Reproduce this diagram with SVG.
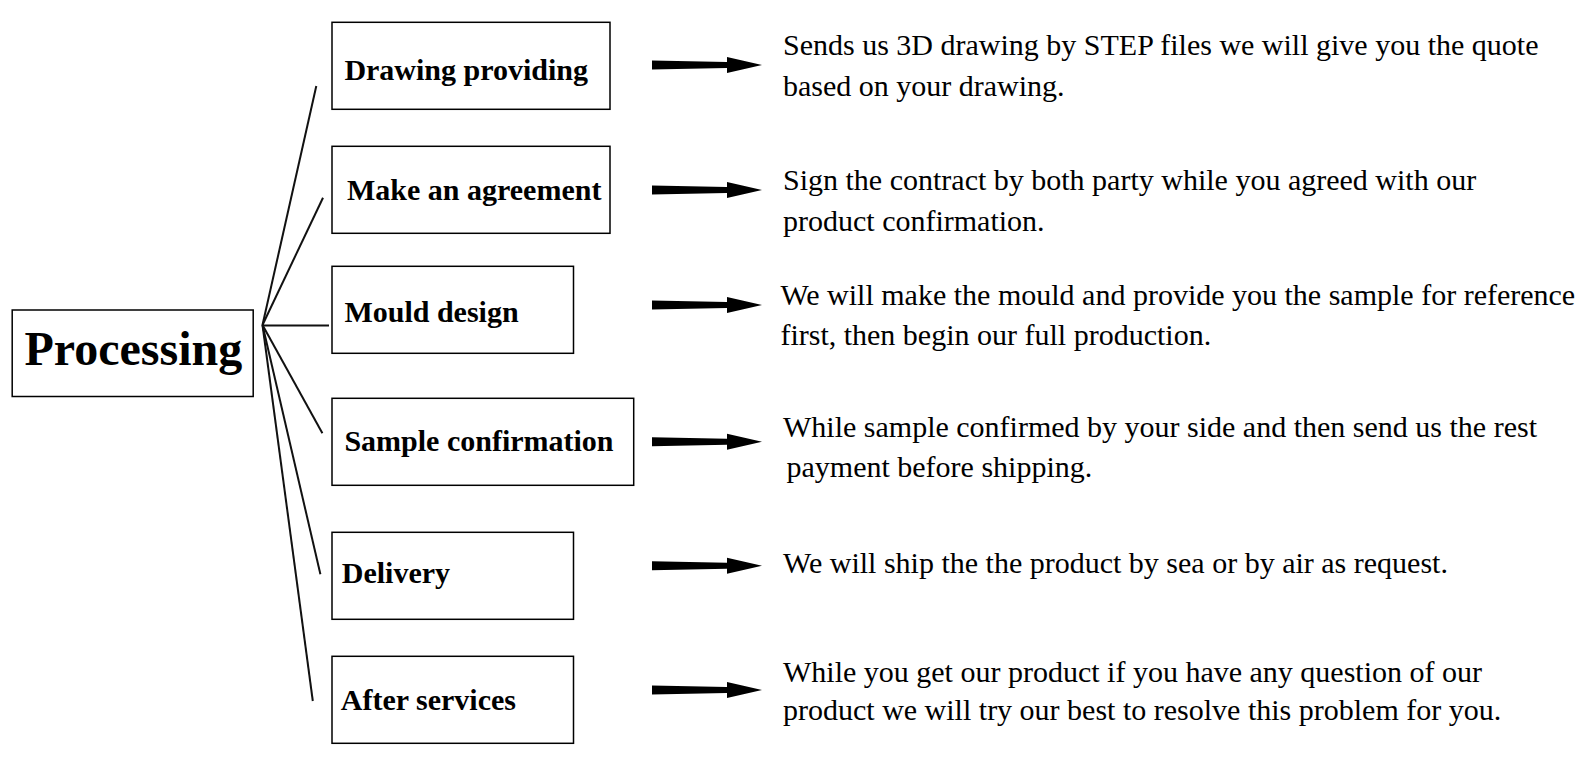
<svg xmlns="http://www.w3.org/2000/svg" width="1588" height="766" viewBox="0 0 1588 766">
<style>
.box{fill:#fff;stroke:#000;stroke-width:1.5}
.lbl{font-family:"Liberation Serif","Times New Roman",serif;font-weight:bold;font-size:30px;fill:#000}
.big{font-family:"Liberation Serif","Times New Roman",serif;font-weight:bold;font-size:48px;fill:#000}
.desc{font-family:"Liberation Serif","Times New Roman",serif;font-size:30px;fill:#000}
.ln{stroke:#111;stroke-width:2;fill:none}
</style>
<defs>
<path id="arr" d="M0,-4.5 L75,-3 L75,-8 L110,0 L75,8 L75,3 L0,4.5 Z" fill="#000"/>
</defs>
<rect width="1588" height="766" fill="#fff"/>
<g id="connectors">
<line class="ln" x1="262.5" y1="325" x2="316.3" y2="86"/>
<line class="ln" x1="262.5" y1="325" x2="323" y2="197.7"/>
<line class="ln" x1="262.5" y1="325.5" x2="329" y2="325.5"/>
<line class="ln" x1="262.5" y1="325" x2="322.4" y2="433.3"/>
<line class="ln" x1="262.5" y1="325" x2="320.4" y2="574.3"/>
<line class="ln" x1="262.5" y1="325" x2="312.8" y2="701"/>
<use href="#arr" x="652" y="65"/>
<use href="#arr" x="652" y="190"/>
<use href="#arr" x="652" y="305"/>
<use href="#arr" x="652" y="441.7"/>
<use href="#arr" x="652" y="565.7"/>
<use href="#arr" x="652" y="690"/>
</g>
<g id="processing">
<rect class="box" x="12.2" y="310" width="241" height="86.5"/>
<text class="big" x="24.5" y="365">Processing</text>
</g>
<g id="drawing">
<rect class="box" x="332" y="22.3" width="278" height="87"/>
<text class="lbl" x="344.4" y="80">Drawing providing</text>
</g>
<g id="agreement">
<rect class="box" x="332" y="146.3" width="278" height="87"/>
<text class="lbl" x="347" y="200">Make an agreement</text>
</g>
<g id="mould">
<rect class="box" x="332" y="266.3" width="241.5" height="87"/>
<text class="lbl" x="344.4" y="321.7">Mould design</text>
</g>
<g id="sample">
<rect class="box" x="332" y="398.3" width="301.7" height="87"/>
<text class="lbl" x="344.4" y="450.7">Sample confirmation</text>
</g>
<g id="delivery">
<rect class="box" x="332" y="532.3" width="241.5" height="87"/>
<text class="lbl" x="341.8" y="583.3">Delivery</text>
</g>
<g id="after">
<rect class="box" x="332" y="656.3" width="241.5" height="87"/>
<text class="lbl" x="340.8" y="710">After services</text>
</g>
<g id="descriptions">
<text class="desc" x="783" y="55">Sends us 3D drawing by STEP files we will give you the quote</text>
<text class="desc" x="783" y="96">based on your drawing.</text>
<text class="desc" x="783" y="190">Sign the contract by both party while you agreed with our</text>
<text class="desc" x="783" y="231">product confirmation.</text>
<text class="desc" x="780.4" y="305">We will make the mould and provide you the sample for reference</text>
<text class="desc" x="780.4" y="345">first, then begin our full production.</text>
<text class="desc" x="783" y="437">While sample confirmed by your side and then send us the rest</text>
<text class="desc" x="786.5" y="477">payment before shipping.</text>
<text class="desc" x="783" y="573">We will ship the the product by sea or by air as request.</text>
<text class="desc" x="783" y="682">While you get our product if you have any question of our</text>
<text class="desc" x="783" y="720">product we will try our best to resolve this problem for you.</text>
</g>
</svg>
